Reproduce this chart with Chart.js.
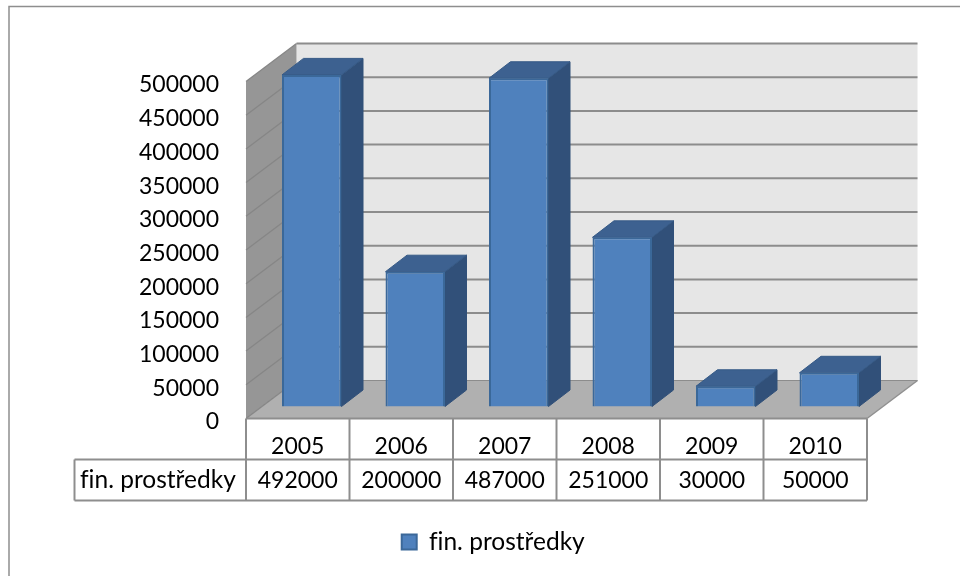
<!DOCTYPE html>
<html><head><meta charset="utf-8">
<style>html,body{margin:0;padding:0;background:#fff}#w{width:960px;height:576px;position:relative}</style>
<script src="https://cdn.jsdelivr.net/npm/chart.js@4"></script>
</head><body><div id="w"><canvas id="c" width="960" height="576"></canvas></div>
<script>
const categories = ['2005','2006','2007','2008','2009','2010'];
const seriesName = 'fin. prostředky';
const values = [492000,200000,487000,251000,30000,50000];
const yTicks = [0,50000,100000,150000,200000,250000,300000,350000,400000,450000,500000];
const FONT = 'Lato, Carlito, sans-serif';
const FS = 23;
const FS_NAME = 24.5;
const WALL = {dx:50.5, dy:-38};
const BAR = {dx:14, dy:-12, ddx:21.5, ddy:-16.5};
function poly(ctx, pts, fill, stroke, lw){
  ctx.beginPath();
  pts.forEach((p,i)=> i?ctx.lineTo(p[0],p[1]):ctx.moveTo(p[0],p[1]));
  ctx.closePath();
  if(fill){ctx.fillStyle=fill;ctx.fill();}
  if(stroke){ctx.strokeStyle=stroke;ctx.lineWidth=lw||1;ctx.stroke();}
}
function line(ctx,x1,y1,x2,y2,c,lw){
  ctx.beginPath();ctx.moveTo(x1,y1);ctx.lineTo(x2,y2);ctx.strokeStyle=c;ctx.lineWidth=lw;ctx.stroke();
}
const scene = {
  id:'scene',
  afterLayout(chart){
    const l = chart.legend;
    const w = l.right-l.left, h = l.bottom-l.top;
    l.left = 493-w/2; l.right = l.left+w;
    l.top = 543-h/2; l.bottom = l.top+h;
  },
  beforeDraw(chart){
    const {ctx,scales:{x,y}} = chart;
    ctx.textRendering='optimizeSpeed';
    ctx.save();
    ctx.strokeStyle='#8e8e8e';ctx.lineWidth=1.5;
    ctx.strokeRect(9,6.5,1000,640);
    const L=x.left,R=x.right,T=y.getPixelForValue(500000),B=y.getPixelForValue(0);
    const dx=WALL.dx,dy=WALL.dy;
    poly(ctx,[[L+dx,T+dy],[R+dx,T+dy],[R+dx,B+dy],[L+dx,B+dy]],'#e6e6e6');
    poly(ctx,[[L,T],[L+dx,T+dy],[L+dx,B+dy],[L,B]],'#969696');
    poly(ctx,[[L,B],[R,B],[R+dx,B+dy],[L+dx,B+dy]],'#b0b0b0');
    yTicks.forEach(v=>{
      const p=y.getPixelForValue(v);
      if(v>0) line(ctx,L,p,L+dx,p+dy,'#868686',1.3);
      line(ctx,L+dx,p+dy,R+dx,p+dy,'#8c8c8c',v===0?1.2:2);
    });
    line(ctx,R,B,R+dx,B+dy,'#909090',1.5);
    line(ctx,L,B,L+dx,B+dy,'#868686',1.3);
    ctx.restore();
  },
  beforeDatasetDraw(chart,args){
    const ctx=chart.ctx;
    ctx.save();
    ctx.translate(BAR.dx,BAR.dy);
    args.meta.data.forEach(el=>{
      const {x,y,base,width}=el.getProps(['x','y','base','width'],true);
      const a=x-width/2,b=x+width/2,d=BAR.ddx,e=BAR.ddy;
      poly(ctx,[[b,y],[b+d,y+e],[b+d,base+e],[b,base]],'#315079','#315079',1);
      poly(ctx,[[a,y],[a+d,y+e],[b+d,y+e],[b,y]],'#3d6190','#365a86',1);
    });
  },
  afterDatasetDraw(chart){ chart.ctx.restore(); },
  afterDraw(chart){
    const {ctx,scales:{x,y}} = chart;
    ctx.save();
    const B=y.getPixelForValue(0), mid=459.5, bot=500.5, L=x.left, R=x.right, lab=74.5;
    const c='#8e8e8e';
    line(ctx,L,B,R,B,'#8e8e8e',2);
    line(ctx,lab,mid,R,mid,c,2);
    line(ctx,lab,bot,R,bot,c,2);
    line(ctx,lab,mid,lab,bot,c,2);
    const n=categories.length, cw=(R-L)/n;
    for(let i=0;i<=n;i++){ line(ctx,L+i*cw,B,L+i*cw,bot,c,2); }
    ctx.fillStyle='#000';ctx.font=FS+'px '+FONT;ctx.textBaseline='middle';
    ctx.textAlign='center';
    values.forEach((v,i)=>ctx.fillText(String(v),x.getPixelForValue(i),480.5));
    ctx.textAlign='left';
    ctx.font=FS_NAME+'px '+FONT;
    ctx.fillText(seriesName,80,480.5);
    ctx.restore();
  }
};
new Chart(document.getElementById('c'),{
  type:'bar',
  data:{labels:categories,datasets:[{
    label:seriesName,data:values,
    backgroundColor:'#4f81bd',borderColor:'#3b6899',borderWidth:2,
    barPercentage:0.575,categoryPercentage:1,clip:false
  }]},
  options:{
    responsive:false,animation:false,devicePixelRatio:1,
    layout:{autoPadding:false,padding:{top:81.5,left:29,right:93,bottom:30}},
    plugins:{
      tooltip:{enabled:false},
      legend:{position:'bottom',labels:{boxWidth:15,boxHeight:15,padding:8,color:'#000',font:{family:FONT,size:FS_NAME}}}
    },
    scales:{
      x:{offset:true,border:{display:false},grid:{display:false},
        ticks:{color:'#000',font:{family:FONT,size:FS},padding:6,maxRotation:0,autoSkip:false},
        afterFit(s){s.height=157.5-30-(s.chart.legend?s.chart.legend.height:0);}},
      y:{min:0,max:500000,border:{display:false},grid:{display:false},
        afterBuildTicks(s){s.ticks=yTicks.map(v=>({value:v}));},
        ticks:{color:'#000',font:{family:FONT,size:FS},padding:19,callback:v=>String(v)},
        afterFit(s){s.width=217;},
        afterUpdate(s){
          if(s._shifted) return;
          s._shifted=true;
          const draw=s.drawLabels.bind(s);
          s.drawLabels=(area)=>{s.ctx.save();s.ctx.translate(0,3.5);draw(area);s.ctx.restore();};
        }}
    }
  },
  plugins:[scene]
});
</script></body></html>
